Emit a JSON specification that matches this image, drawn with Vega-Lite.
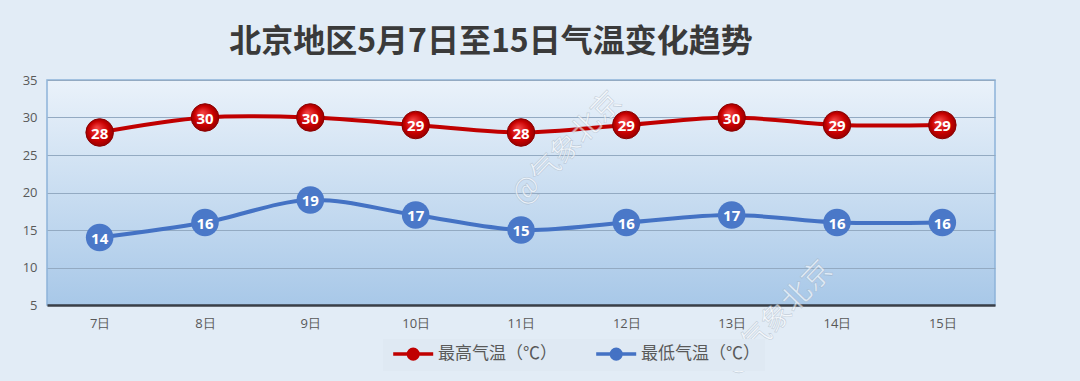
{
  "$schema": "https://vega.github.io/schema/vega-lite/v6.json",
  "autosize": {"type": "none"},
  "width": 948,
  "height": 225,
  "padding": {"left": 47, "top": 80, "right": 85, "bottom": 76},
  "background": "#e2ecf6",
  "title": {
    "text": "北京地区5月7日至15日气温变化趋势",
    "font": "Noto Sans CJK SC",
    "fontSize": 32,
    "fontWeight": "bold",
    "color": "#3a3a3a",
    "anchor": "middle",
    "dx": -30,
    "offset": 15
  },
  "config": {
    "view": {
      "stroke": "#8db3d9",
      "strokeWidth": 1.5,
      "fill": {
        "gradient": "linear",
        "x1": 0, "y1": 0, "x2": 0, "y2": 1,
        "stops": [
          {"offset": 0, "color": "#eaf2fa"},
          {"offset": 1, "color": "#a8c8e8"}
        ]
      }
    },
    "axis": {
      "labelFont": "Open Sans",
      "labelFontSize": 13,
      "labelColor": "#595959",
      "ticks": false,
      "title": null
    }
  },
  "data": {
    "values": [
      {"date": "7日", "series": "最高气温（℃）", "temp": 28},
      {"date": "8日", "series": "最高气温（℃）", "temp": 30},
      {"date": "9日", "series": "最高气温（℃）", "temp": 30},
      {"date": "10日", "series": "最高气温（℃）", "temp": 29},
      {"date": "11日", "series": "最高气温（℃）", "temp": 28},
      {"date": "12日", "series": "最高气温（℃）", "temp": 29},
      {"date": "13日", "series": "最高气温（℃）", "temp": 30},
      {"date": "14日", "series": "最高气温（℃）", "temp": 29},
      {"date": "15日", "series": "最高气温（℃）", "temp": 29},
      {"date": "7日", "series": "最低气温（℃）", "temp": 14},
      {"date": "8日", "series": "最低气温（℃）", "temp": 16},
      {"date": "9日", "series": "最低气温（℃）", "temp": 19},
      {"date": "10日", "series": "最低气温（℃）", "temp": 17},
      {"date": "11日", "series": "最低气温（℃）", "temp": 15},
      {"date": "12日", "series": "最低气温（℃）", "temp": 16},
      {"date": "13日", "series": "最低气温（℃）", "temp": 17},
      {"date": "14日", "series": "最低气温（℃）", "temp": 16},
      {"date": "15日", "series": "最低气温（℃）", "temp": 16}
    ]
  },
  "encoding": {
    "x": {
      "field": "date",
      "type": "ordinal",
      "sort": null,
      "scale": {"type": "point", "padding": 0.5},
      "axis": {
        "labelAngle": 0,
        "labelPadding": 12,
        "domain": true,
        "domainColor": "#3a3f47",
        "domainWidth": 2.5,
        "grid": false
      }
    },
    "y": {
      "field": "temp",
      "type": "quantitative",
      "scale": {"domain": [5, 35], "nice": false, "zero": false},
      "axis": {
        "values": [5, 10, 15, 20, 25, 30, 35],
        "labelPadding": 10,
        "domain": false,
        "grid": true,
        "gridColor": "#93aac2",
        "gridWidth": 1
      }
    }
  },
  "layer": [
    {
      "mark": {"type": "line", "interpolate": "catmull-rom", "strokeWidth": 4},
      "encoding": {
        "color": {
          "field": "series",
          "type": "nominal",
          "scale": {
            "domain": ["最高气温（℃）", "最低气温（℃）"],
            "range": ["#c00000", "#4472c4"]
          },
          "legend": {
            "orient": "none",
            "legendX": 336,
            "legendY": 259,
            "direction": "horizontal",
            "title": null,
            "fillColor": "#dfe9f3",
            "padding": 5,
            "columnPadding": 32,
            "symbolType": "M-0.6,0L4.4,0M1.3,0A0.6,0.6 0 1,1 2.5,0A0.6,0.6 0 1,1 1.3,0Z",
            "symbolSize": 256,
            "symbolStrokeWidth": 3.5,
            "labelFont": "Noto Sans CJK SC",
            "labelFontSize": 17,
            "labelColor": "#595959",
            "labelOffset": 30,
            "encode": {
              "symbols": {
                "update": {
                  "fill": {"scale": "color", "field": "value"},
                  "fillOpacity": {"value": 1}
                }
              }
            }
          }
        }
      }
    },
    {
      "transform": [{"filter": "datum.series === '最高气温（℃）'"}],
      "mark": {
        "type": "point",
        "shape": "circle",
        "filled": true,
        "size": 760,
        "opacity": 1,
        "stroke": "#8a0000",
        "strokeWidth": 1,
        "color": {
          "gradient": "radial",
          "x1": 0.4, "y1": 0.35, "r1": 0.05,
          "x2": 0.5, "y2": 0.5, "r2": 0.55,
          "stops": [
            {"offset": 0, "color": "#f04040"},
            {"offset": 0.6, "color": "#c80000"},
            {"offset": 1, "color": "#8e0000"}
          ]
        }
      }
    },
    {
      "transform": [{"filter": "datum.series === '最低气温（℃）'"}],
      "mark": {
        "type": "point",
        "shape": "circle",
        "filled": true,
        "size": 760,
        "opacity": 1,
        "color": "#4a78c8"
      }
    },
    {
      "mark": {
        "type": "text",
        "font": "Open Sans",
        "fontSize": 15,
        "fontWeight": "bold",
        "color": "white",
        "baseline": "middle",
        "align": "center",
        "dy": 1
      },
      "encoding": {"text": {"field": "temp", "type": "quantitative"}}
    },
    {
      "data": {"values": [
        {"d": "11日", "t": 25.5, "w": "@气象北京"},
        {"d": "13日", "t": 3, "w": "@气象北京"}
      ]},
      "mark": {
        "type": "text",
        "font": "Noto Sans CJK SC",
        "fontSize": 29,
        "angle": 314,
        "align": "center",
        "baseline": "middle",
        "color": "#ffffff",
        "opacity": 0.6,
        "stroke": "#7f90a3",
        "strokeWidth": 0.6,
        "strokeOpacity": 0.6,
        "dx": 34,
        "dy": 31
      },
      "encoding": {
        "x": {"field": "d", "type": "ordinal"},
        "y": {"field": "t", "type": "quantitative"},
        "text": {"field": "w"}
      }
    }
  ]
}
